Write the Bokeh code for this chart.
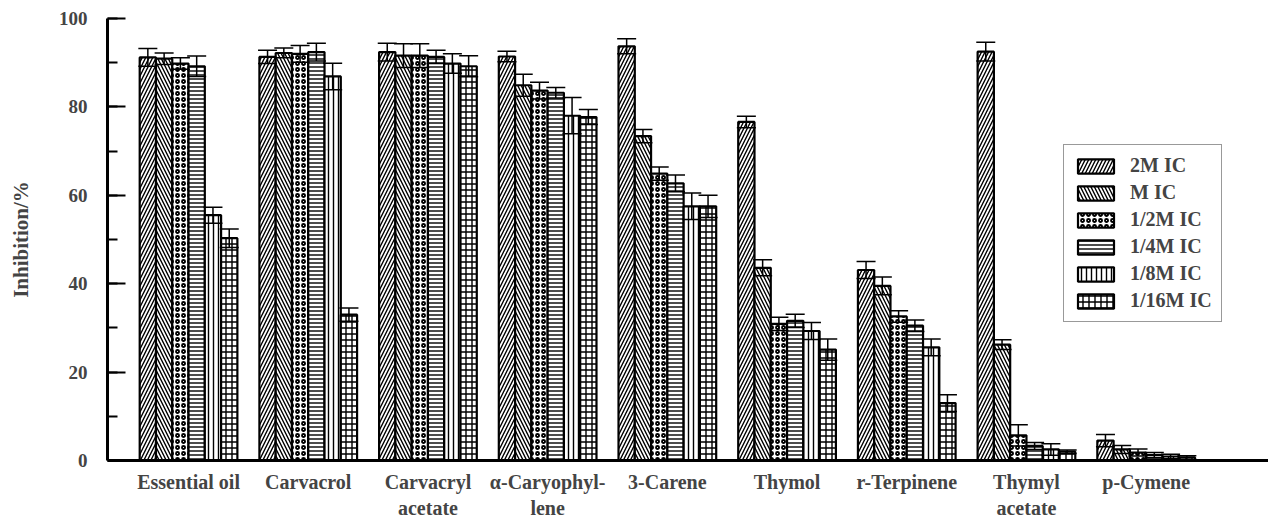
from bokeh.plotting import figure
from bokeh.models import ColumnDataSource, Whisker, TeeHead, SingleIntervalTicker, FixedTicker, Legend, LegendItem
from bokeh.embed import file_html
from bokeh.resources import INLINE

categories = ["Essential oil", "Carvacrol", "Carvacryl\nacetate", "\u03b1-Caryophyl-\nlene",
              "3-Carene", "Thymol", "r-Terpinene", "Thymyl\nacetate", "p-Cymene"]
series = ["2M IC", "M IC", "1/2M IC", "1/4M IC", "1/8M IC", "1/16M IC"]

v_2mic = [91.2, 91.3, 92.4, 91.4, 93.7, 76.6, 43.1, 92.5, 4.5]
v_mic = [90.9, 92.2, 91.6, 84.9, 73.4, 43.6, 39.5, 26.2, 2.5]
v_half = [89.8, 92.0, 91.6, 83.7, 64.9, 30.9, 32.6, 5.7, 1.8]
v_quarter = [89.2, 92.4, 91.3, 83.2, 62.7, 31.6, 30.5, 3.3, 1.2]
v_eighth = [55.5, 86.9, 89.8, 78.0, 57.5, 29.3, 25.6, 2.5, 0.9]
v_sixteenth = [50.3, 33.0, 89.2, 77.7, 57.5, 25.1, 13.0, 2.0, 0.7]

e_2mic = [2.0, 1.5, 2.0, 1.2, 1.7, 1.3, 1.9, 2.1, 1.4]
e_mic = [1.3, 1.1, 2.7, 2.5, 1.5, 1.8, 2.0, 1.1, 0.9]
e_half = [1.3, 1.9, 2.7, 1.9, 1.5, 1.5, 1.3, 2.4, 0.8]
e_quarter = [2.3, 2.0, 1.5, 1.2, 1.9, 1.5, 1.3, 0.8, 0.6]
e_eighth = [1.8, 3.0, 2.2, 4.1, 3.0, 1.9, 1.9, 1.3, 0.5]
e_sixteenth = [2.1, 1.5, 2.4, 1.7, 2.5, 2.4, 1.9, 0.4, 0.4]

values = [v_2mic, v_mic, v_half, v_quarter, v_eighth, v_sixteenth]
errors = [e_2mic, e_mic, e_half, e_quarter, e_eighth, e_sixteenth]
hatches = ["/", "\\", "o", "-", "|", "+"]
hscales = [7, 7, 6, 4, 5, 6]
hweights = [1.4, 1.4, 1.8, 1.4, 1.4, 1.4]

FONT = "Liberation Serif"
bw = 0.136

p = figure(width=1268, height=521, x_range=(-0.677, 9.022), y_range=(0, 100),
           output_backend="svg", toolbar_location=None,
           min_border_left=107, min_border_right=0, min_border_top=18, min_border_bottom=60)
p.outline_line_color = None
p.xgrid.visible = False
p.ygrid.visible = False

items = []
for i, (name, vals, errs) in enumerate(zip(series, values, errors)):
    xs = [k + (i - 2.5) * bw for k in range(len(categories))]
    src = ColumnDataSource(dict(x=xs, top=vals,
                                upper=[v + e for v, e in zip(vals, errs)],
                                lower=[v - e for v, e in zip(vals, errs)]))
    r = p.vbar(x="x", top="top", width=bw, source=src, fill_color="white",
               line_color="black", line_width=2.2, hatch_pattern=hatches[i],
               hatch_color="black", hatch_scale=hscales[i], hatch_weight=hweights[i])
    items.append(LegendItem(label=name, renderers=[r]))
    w = Whisker(source=src, base="x", upper="upper", lower="lower",
                line_color="black", line_width=1.5, level="annotation",
                upper_head=TeeHead(size=19, line_width=1.5, line_color="black"),
                lower_head=TeeHead(size=19, line_width=1.5, line_color="black"))
    p.add_layout(w)

legend = Legend(items=items, location=(956, 138), border_line_color="#333333",
                border_line_width=1.5, background_fill_color="white",
                glyph_width=45, glyph_height=18, label_height=18, spacing=4,
                padding=9, label_standoff=12, label_text_font=FONT,
                label_text_font_style="bold", label_text_font_size="20px")
p.add_layout(legend, "center")

# y axis
p.yaxis.ticker = SingleIntervalTicker(interval=20, num_minor_ticks=2)
p.yaxis.axis_label = "Inhibition/%"
p.yaxis.axis_label_text_font = FONT
p.yaxis.axis_label_text_font_style = "bold"
p.yaxis.axis_label_text_font_size = "21px"
p.yaxis.axis_label_standoff = 23
p.yaxis.major_label_text_font = FONT
p.yaxis.major_label_text_font_style = "bold"
p.yaxis.major_label_text_font_size = "19px"
p.yaxis.major_label_standoff = 20
p.yaxis.axis_line_width = 3
p.yaxis.major_tick_in = 18
p.yaxis.major_tick_out = 0
p.yaxis.minor_tick_in = 10
p.yaxis.minor_tick_out = 0
p.yaxis.major_tick_line_width = 2
p.yaxis.minor_tick_line_width = 2

# x axis
p.xaxis.ticker = FixedTicker(ticks=list(range(len(categories))))
p.xaxis.major_label_overrides = {k: c for k, c in enumerate(categories)}
p.xaxis.major_label_text_font = FONT
p.xaxis.major_label_text_font_style = "bold"
p.xaxis.major_label_text_font_size = "20px"
p.xaxis.major_label_text_line_height = 1.2
p.xaxis.major_label_standoff = 10
p.xaxis.axis_line_width = 3
p.xaxis.major_tick_in = 0
p.xaxis.major_tick_out = 0
p.xaxis.minor_tick_in = 0
p.xaxis.minor_tick_out = 0
p.xaxis.major_tick_line_color = None
p.xaxis.minor_tick_line_color = None

open("out.html", "w").write(file_html(p, INLINE))
